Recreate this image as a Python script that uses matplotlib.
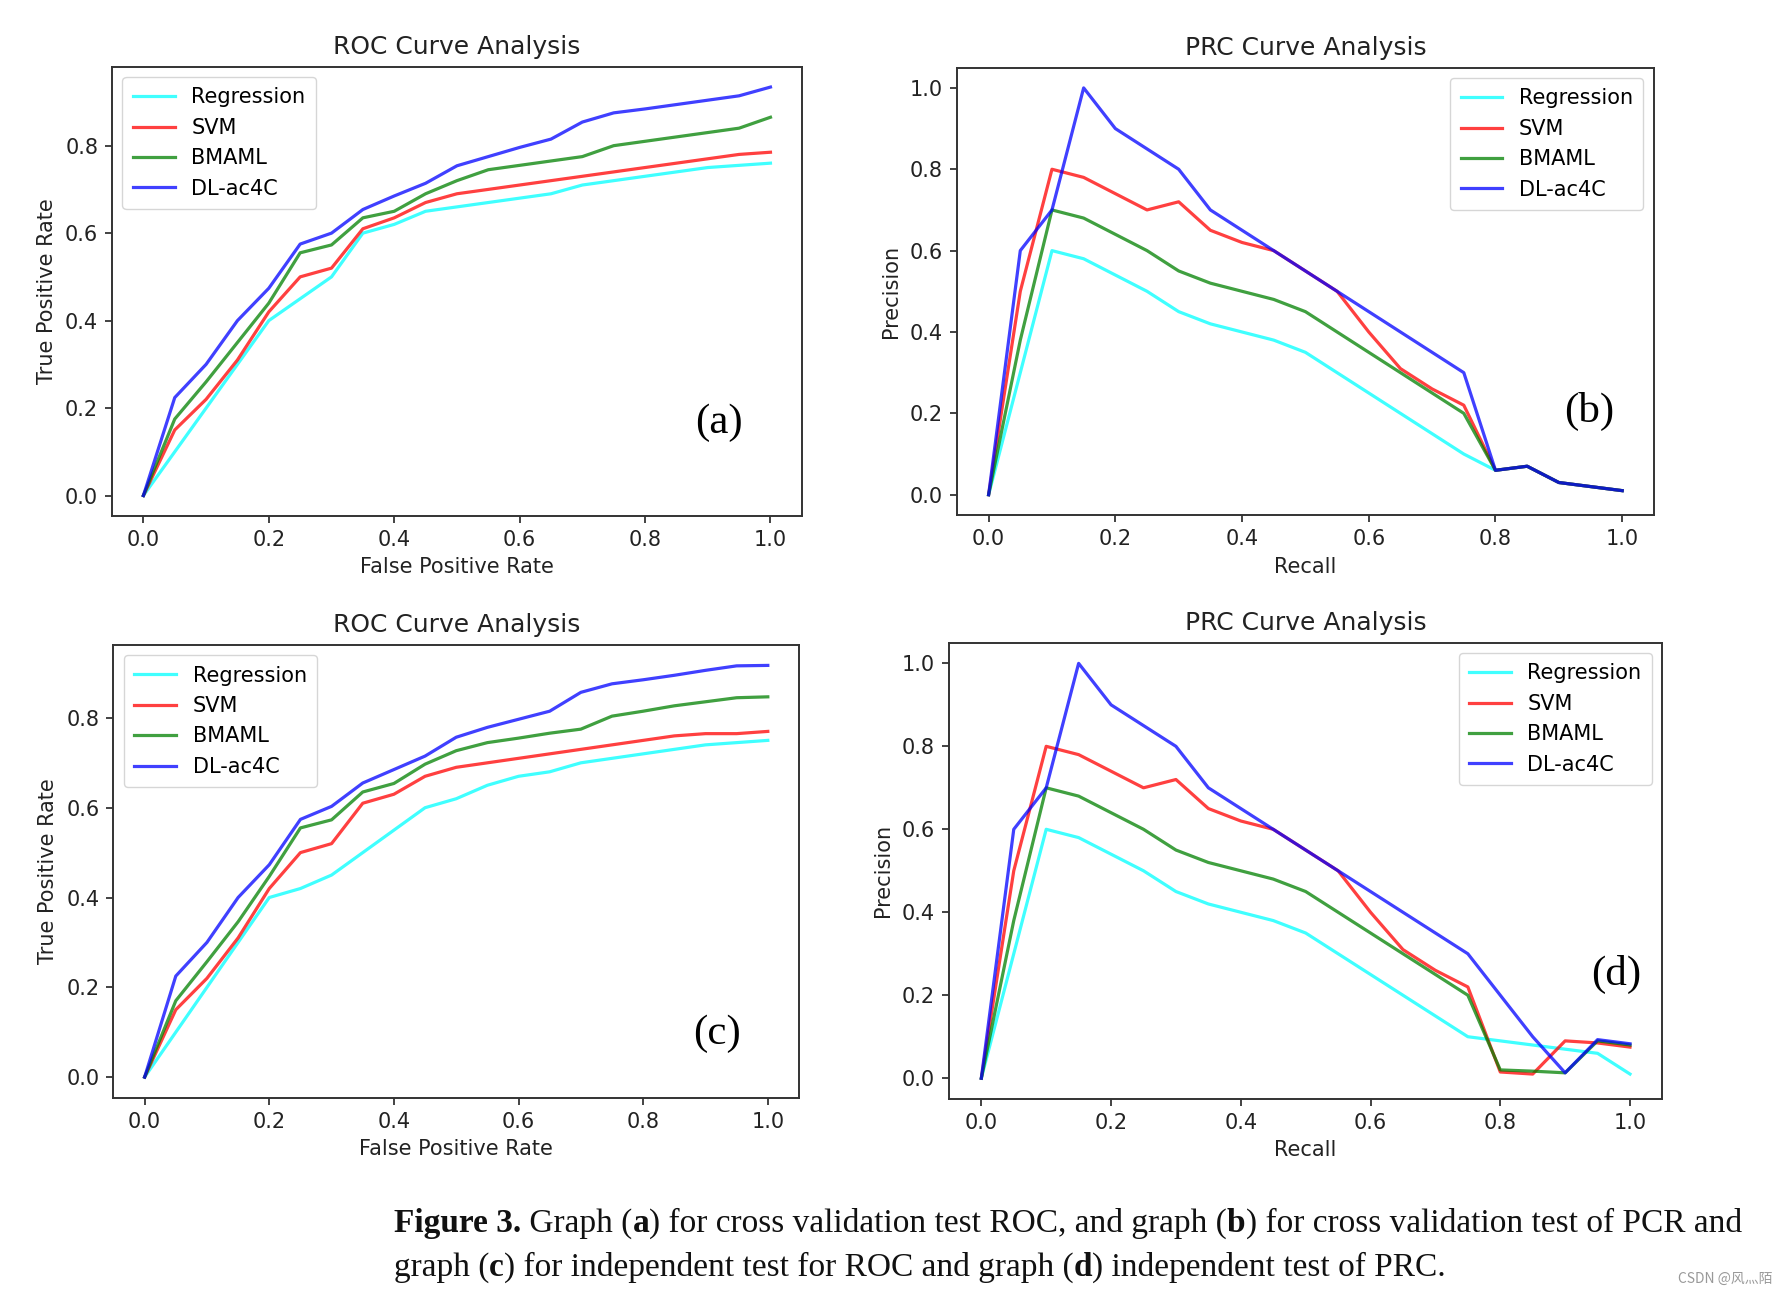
import matplotlib
matplotlib.use("Agg")
import matplotlib.pyplot as plt

# x positions shared by every curve
fpr = [0.0, 0.05, 0.1, 0.15, 0.2, 0.25, 0.3, 0.35, 0.4, 0.45, 0.5,
       0.55, 0.6, 0.65, 0.7, 0.75, 0.8, 0.85, 0.9, 0.95, 1.0]
recall = [0.0, 0.05, 0.1, 0.15, 0.2, 0.25, 0.3, 0.35, 0.4, 0.45, 0.5,
          0.55, 0.6, 0.65, 0.7, 0.75, 0.8, 0.85, 0.9, 0.95, 1.0]

models = ["Regression", "SVM", "BMAML", "DL-ac4C"]
colors = ["cyan", "red", "green", "blue"]

# (a) cross validation ROC
roc_cv_reg = [0, 0.1, 0.2, 0.3, 0.4, 0.45, 0.5, 0.6, 0.62, 0.65, 0.66,
              0.67, 0.68, 0.69, 0.71, 0.72, 0.73, 0.74, 0.75, 0.755, 0.76]
roc_cv_svm = [0, 0.15, 0.22, 0.31, 0.42, 0.5, 0.52, 0.61, 0.635, 0.67, 0.69,
              0.70, 0.71, 0.72, 0.73, 0.74, 0.75, 0.76, 0.77, 0.78, 0.785]
roc_cv_bmaml = [0, 0.175, 0.26, 0.35, 0.44, 0.555, 0.573, 0.635, 0.65, 0.69, 0.72,
                0.745, 0.755, 0.765, 0.775, 0.80, 0.81, 0.82, 0.83, 0.84, 0.865]
roc_cv_dl = [0, 0.224, 0.30, 0.40, 0.474, 0.575, 0.60, 0.654, 0.685, 0.714, 0.754,
             0.775, 0.796, 0.815, 0.854, 0.875, 0.884, 0.894, 0.904, 0.914, 0.934]

# (c) independent test ROC
roc_ind_reg = [0, 0.1, 0.2, 0.3, 0.4, 0.42, 0.45, 0.5, 0.55, 0.6, 0.62,
               0.65, 0.67, 0.68, 0.70, 0.71, 0.72, 0.73, 0.74, 0.745, 0.75]
roc_ind_svm = [0, 0.15, 0.22, 0.31, 0.42, 0.5, 0.52, 0.61, 0.63, 0.67, 0.69,
               0.70, 0.71, 0.72, 0.73, 0.74, 0.75, 0.76, 0.765, 0.765, 0.77]
roc_ind_bmaml = [0, 0.17, 0.257, 0.346, 0.447, 0.555, 0.573, 0.635, 0.654, 0.697, 0.727,
                 0.745, 0.755, 0.766, 0.775, 0.804, 0.815, 0.827, 0.836, 0.845, 0.847]
roc_ind_dl = [0, 0.225, 0.30, 0.40, 0.473, 0.574, 0.603, 0.655, 0.685, 0.715, 0.757,
              0.779, 0.797, 0.815, 0.857, 0.876, 0.885, 0.895, 0.906, 0.916, 0.917]

# (b) cross validation PRC
prc_cv_reg = [0, 0.3, 0.6, 0.58, 0.54, 0.5, 0.45, 0.42, 0.4, 0.38, 0.35,
              0.3, 0.25, 0.2, 0.15, 0.1, 0.06, 0.07, 0.03, 0.02, 0.01]
prc_cv_svm = [0, 0.5, 0.8, 0.78, 0.74, 0.7, 0.72, 0.65, 0.62, 0.6, 0.55,
              0.5, 0.4, 0.31, 0.26, 0.22, 0.06, 0.07, 0.03, 0.02, 0.01]
prc_cv_bmaml = [0, 0.38, 0.7, 0.68, 0.64, 0.6, 0.55, 0.52, 0.5, 0.48, 0.45,
                0.4, 0.35, 0.3, 0.25, 0.2, 0.06, 0.07, 0.03, 0.02, 0.01]
prc_cv_dl = [0, 0.6, 0.7, 1.0, 0.9, 0.85, 0.8, 0.7, 0.65, 0.6, 0.55,
             0.5, 0.45, 0.4, 0.35, 0.3, 0.06, 0.07, 0.03, 0.02, 0.01]

# (d) independent test PRC
prc_ind_reg = [0, 0.3, 0.6, 0.58, 0.54, 0.5, 0.45, 0.42, 0.4, 0.38, 0.35,
               0.3, 0.25, 0.2, 0.15, 0.1, 0.09, 0.08, 0.07, 0.06, 0.01]
prc_ind_svm = [0, 0.5, 0.8, 0.78, 0.74, 0.7, 0.72, 0.65, 0.62, 0.6, 0.55,
               0.5, 0.4, 0.31, 0.26, 0.22, 0.015, 0.01, 0.09, 0.085, 0.075]
prc_ind_bmaml = [0, 0.38, 0.7, 0.68, 0.64, 0.6, 0.55, 0.52, 0.5, 0.48, 0.45,
                 0.4, 0.35, 0.3, 0.25, 0.2, 0.02, 0.017, 0.013, 0.09, 0.08]
prc_ind_dl = [0, 0.6, 0.7, 1.0, 0.9, 0.85, 0.8, 0.7, 0.65, 0.6, 0.55,
              0.5, 0.45, 0.4, 0.35, 0.3, 0.2, 0.1, 0.013, 0.093, 0.083]

caption_line1 = [("Figure 3.", "bold"), (" Graph (", "normal"), ("a", "bold"),
                 (") for cross validation test ROC, and graph (", "normal"), ("b", "bold"),
                 (") for cross validation test of PCR and", "normal")]
caption_line2 = [("graph (", "normal"), ("c", "bold"),
                 (") for independent test for ROC and graph (", "normal"), ("d", "bold"),
                 (") independent test of PRC.", "normal")]

plt.rcParams["font.family"] = "DejaVu Sans"
TICK = 15

fig = plt.figure(figsize=(17.87, 12.99), dpi=100)

panels = [
    # rect, x, series, title, xlabel, ylabel, legend loc, tag, tag position
    ([0.0627, 0.6028, 0.386, 0.3459], fpr, [roc_cv_reg, roc_cv_svm, roc_cv_bmaml, roc_cv_dl],
     "ROC Curve Analysis", "False Positive Rate", "True Positive Rate", "upper left", "(a)", (0.918, 0.167)),
    ([0.5355, 0.6035, 0.390, 0.3445], recall, [prc_cv_reg, prc_cv_svm, prc_cv_bmaml, prc_cv_dl],
     "PRC Curve Analysis", "Recall", "Precision", "upper right", "(b)", (0.948, 0.204)),
    ([0.0635, 0.155, 0.3836, 0.3486], fpr, [roc_ind_reg, roc_ind_svm, roc_ind_bmaml, roc_ind_dl],
     "ROC Curve Analysis", "False Positive Rate", "True Positive Rate", "upper left", "(c)", (0.918, 0.097)),
    ([0.531, 0.154, 0.3993, 0.3513], recall, [prc_ind_reg, prc_ind_svm, prc_ind_bmaml, prc_ind_dl],
     "PRC Curve Analysis", "Recall", "Precision", "upper right", "(d)", (0.979, 0.25)),
]

for rect, xs, series, title, xlab, ylab, loc, tag, tagpos in panels:
    ax = fig.add_axes(rect)
    for ys, name, c in zip(series, models, colors):
        ax.plot(xs, ys, color=c, lw=2.3, alpha=0.75, label=name)
    ax.set_title(title, fontsize=18, pad=9, color="#222222")
    ax.set_xlabel(xlab, fontsize=TICK, labelpad=5.5, color="#222222")
    ax.set_ylabel(ylab, fontsize=TICK, labelpad=6, color="#222222")
    ax.tick_params(labelsize=TICK, length=5, width=1.2, pad=5, colors="#222222")
    for s in ax.spines.values():
        s.set_linewidth(1.4)
        s.set_color("#333333")
    ax.legend(loc=loc, fontsize=TICK, handlelength=2.0, borderpad=0.5,
              labelspacing=0.5, framealpha=0.8)
    ax.text(tagpos[0], tagpos[1], tag, fontsize=31, family="Liberation Serif",
            ha="center", va="center")


def draw_runs(runs, x_px, y_px, size):
    renderer = fig.canvas.get_renderer()
    W, H = fig.bbox.width, fig.bbox.height
    x = x_px
    for s, w in runs:
        fig.text(x / W, 1 - y_px / H, s, fontsize=size, fontweight=w,
                 family="Liberation Serif", va="baseline", color="#111111")
        # measure with bars on both sides so leading/trailing spaces count
        probe = fig.text(0, 0, "|" + s + "|", fontsize=size, fontweight=w,
                         family="Liberation Serif")
        bars = fig.text(0, 0, "||", fontsize=size, fontweight=w,
                        family="Liberation Serif")
        width = probe.get_window_extent(renderer).width - bars.get_window_extent(renderer).width
        probe.remove()
        bars.remove()
        x += width


draw_runs(caption_line1, 394, 1232, 24)
draw_runs(caption_line2, 394, 1276, 24)

fig.text(0.992, 0.0125, "CSDN @风灬陌", fontsize=10, color="#999999", ha="right",
         family=["Noto Sans CJK SC", "DejaVu Sans"])

fig.savefig("out.png", dpi=100)
